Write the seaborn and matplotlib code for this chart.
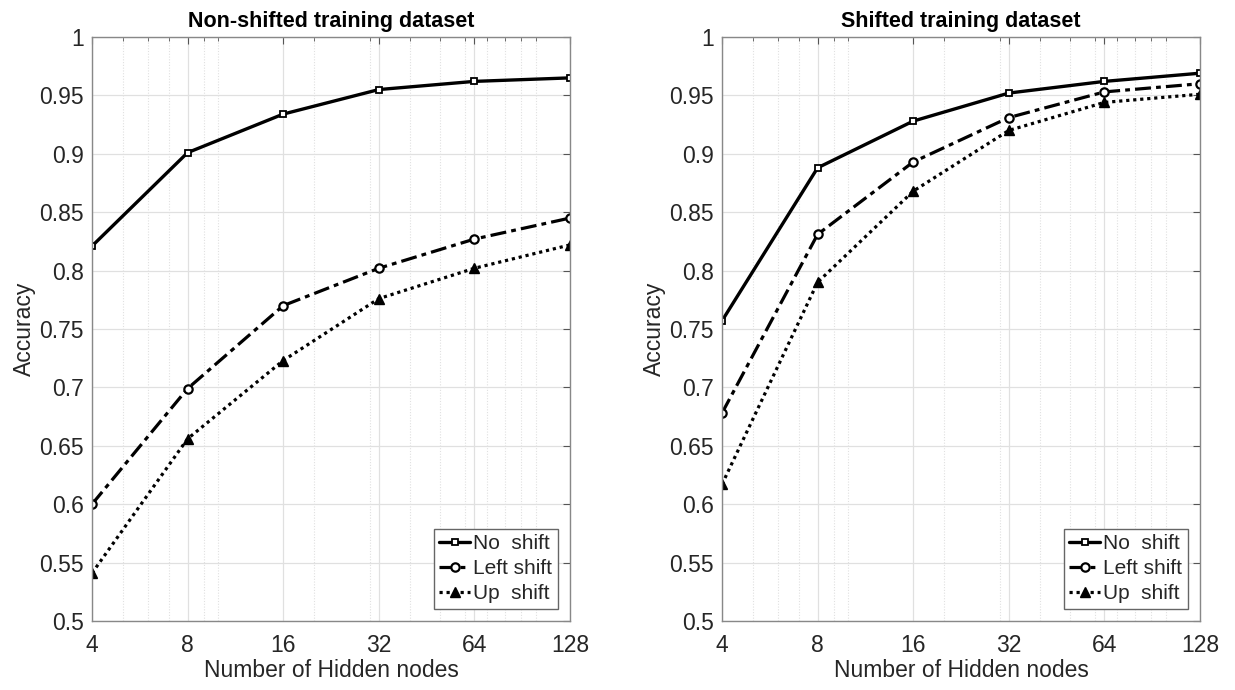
import numpy as np
import pandas as pd
import matplotlib
matplotlib.use("Agg")
import matplotlib.pyplot as plt
import matplotlib.ticker as mticker
import seaborn as sns

# ---- data ----
hidden_nodes = [4, 8, 16, 32, 64, 128]
series_names = ["No  shift", "Left shift", "Up  shift"]

nonshift_no = [0.821, 0.901, 0.934, 0.955, 0.962, 0.965]
nonshift_left = [0.600, 0.699, 0.770, 0.802, 0.827, 0.845]
nonshift_up = [0.541, 0.656, 0.723, 0.776, 0.802, 0.822]

shift_no = [0.757, 0.888, 0.928, 0.952, 0.962, 0.969]
shift_left = [0.678, 0.831, 0.893, 0.931, 0.953, 0.960]
shift_up = [0.617, 0.790, 0.868, 0.920, 0.944, 0.951]

titles = ["Non-shifted training dataset", "Shifted training dataset"]
y_ticks = [0.5, 0.55, 0.6, 0.65, 0.7, 0.75, 0.8, 0.85, 0.9, 0.95, 1.0]
y_tick_labels = ["0.5", "0.55", "0.6", "0.65", "0.7", "0.75", "0.8", "0.85", "0.9", "0.95", "1"]
x_tick_labels = ["4", "8", "16", "32", "64", "128"]

sns.set_theme(style="white")
plt.rcParams["font.family"] = ["Liberation Sans", "DejaVu Sans"]

fig = plt.figure(figsize=(12.35, 6.9), dpi=100)
ax1 = fig.add_axes([92 / 1235, 1 - 621 / 690, 478 / 1235, 584 / 690])
ax2 = fig.add_axes([722 / 1235, 1 - 621 / 690, 478 / 1235, 584 / 690])

styles = [
    dict(linestyle="-", marker="s", markersize=5, markerfacecolor="white", markeredgewidth=1.3, linewidth=2.4),
    dict(linestyle=(0, (5, 1.6, 1.5, 1.6)), marker="o", markersize=6, markerfacecolor="white", markeredgewidth=1.6, linewidth=2.3),
    dict(linestyle=(0, (1, 1.2)), marker="^", markersize=7, markerfacecolor="black", markeredgewidth=1.0, linewidth=2.3),
]

panels = [
    (ax1, [nonshift_no, nonshift_left, nonshift_up], titles[0]),
    (ax2, [shift_no, shift_left, shift_up], titles[1]),
]

grid_c = "#e0e0e0"
for ax, vals, title in panels:
    for name, v, st in zip(series_names, vals, styles):
        df = pd.DataFrame({"nodes": hidden_nodes, "acc": v})
        sns.lineplot(data=df, x="nodes", y="acc", ax=ax, color="black",
                     markeredgecolor="black", label=name, **st)
    ax.set_xscale("log")
    ax.set_xlim(4, 128)
    ax.set_ylim(0.5, 1.0)
    ax.xaxis.set_major_locator(mticker.FixedLocator(hidden_nodes))
    ax.xaxis.set_major_formatter(mticker.FixedFormatter(x_tick_labels))
    ax.xaxis.set_minor_locator(mticker.LogLocator(base=10, subs=np.arange(1, 10)))
    ax.xaxis.set_minor_formatter(mticker.NullFormatter())
    ax.set_yticks(y_ticks)
    ax.set_yticklabels(y_tick_labels)
    ax.grid(True, which="major", axis="both", color=grid_c, linewidth=0.9, linestyle="-")
    ax.grid(True, which="minor", axis="x", color=grid_c, linewidth=0.8, linestyle=(0, (1, 1.5)))
    ax.set_axisbelow(True)
    ax.tick_params(axis="both", which="both", direction="in", top=True, right=True,
                   colors="#555555", labelcolor="#262626", labelsize=16.5)
    ax.tick_params(axis="both", which="major", length=5, width=0.8)
    ax.tick_params(axis="y", which="major", pad=6)
    ax.tick_params(axis="x", which="minor", length=3, width=0.6)
    ax.tick_params(axis="x", which="major", pad=9)
    for sp in ax.spines.values():
        sp.set_color("#888888")
        sp.set_linewidth(1.0)
    ax.set_xlabel("Number of Hidden nodes", fontsize=16.5, color="#262626", labelpad=2)
    ax.set_ylabel("Accuracy", fontsize=16.5, color="#262626", labelpad=2)
    ax.set_title(title, fontsize=15.5, fontweight="bold", color="black", pad=7)
    leg = ax.legend(loc="lower right", fontsize=15, frameon=True, fancybox=False,
                    edgecolor="#666666", framealpha=1.0, handlelength=1.5,
                    handletextpad=0.15, borderpad=0.25, labelspacing=0.3,
                    borderaxespad=0.6)
    leg.get_frame().set_linewidth(1.0)

fig.savefig("out.png", dpi=100, facecolor="white")
